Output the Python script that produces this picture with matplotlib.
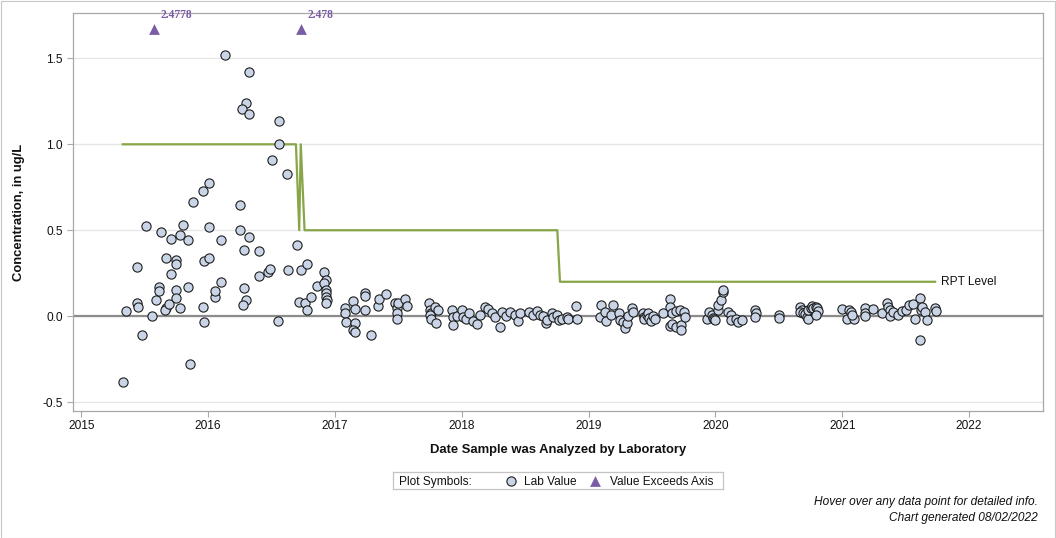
"""Lab concentration history with RPT level step line (SAS-style chart)."""

import matplotlib
matplotlib.use("Agg")  # no display in the sandbox
import matplotlib.pyplot as plt
from matplotlib.patches import Rectangle

plt.rcParams["font.family"] = ["Liberation Sans", "DejaVu Sans"]

W, H = 1056, 538  # output size in pixels

# --- data (decimal year of analysis, concentration in ug/L) ---------------
year_2015_16 = [
    2015.33, 2015.35, 2015.44, 2015.445, 2015.44, 2015.48, 2015.51, 2015.56,
    2015.59, 2015.61, 2015.61, 2015.63, 2015.67, 2015.66, 2015.69, 2015.67,
    2015.71, 2015.71, 2015.75, 2015.75, 2015.75, 2015.745, 2015.78, 2015.78,
    2015.80, 2015.84, 2015.84, 2015.86, 2015.88, 2015.96, 2015.96, 2015.97,
    2015.97, 2016.01, 2016.01, 2016.01, 2016.05, 2016.055, 2016.10, 2016.10,
    2016.13, 2016.25, 2016.25, 2016.28, 2016.28, 2016.30, 2016.277, 2016.32,
    2016.30, 2016.27, 2016.32, 2016.32, 2016.40, 2016.40, 2016.47, 2016.49,
    2016.50, 2016.56, 2016.56, 2016.55, 2016.62, 2016.63, 2016.70, 2016.73,
    2016.78, 2016.72, 2016.76, 2016.78, 2016.81, 2016.86, 2016.91, 2016.93,
    2016.91, 2016.93, 2016.93, 2016.93, 2016.94, 2016.93,
]
conc_2015_16 = [
    -0.385, 0.029, 0.077, 0.051, 0.287, -0.110, 0.523, 0.000,
    0.093, 0.170, 0.147, 0.488, 0.045, 0.033, 0.070, 0.337,
    0.244, 0.448, 0.326, 0.306, 0.155, 0.105, 0.045, 0.475,
    0.528, 0.442, 0.167, -0.281, 0.663, 0.731, 0.051, -0.035,
    0.320, 0.336, 0.777, 0.516, 0.109, 0.145, 0.442, 0.196,
    1.517, 0.649, 0.500, 0.384, 0.161, 0.093, 0.064, 0.459,
    1.240, 1.207, 1.174, 1.419, 0.378, 0.233, 0.258, 0.272,
    0.907, 1.135, 1.004, -0.029, 0.830, 0.267, 0.413, 0.267,
    0.306, 0.083, 0.074, 0.035, 0.112, 0.178, 0.258, 0.213,
    0.194, 0.151, 0.132, 0.109, 0.093, 0.074,
]

year_2017_18 = [
    2017.08, 2017.08, 2017.09, 2017.14, 2017.16, 2017.16, 2017.14, 2017.16,
    2017.24, 2017.24, 2017.24, 2017.28, 2017.34, 2017.35, 2017.40, 2017.47,
    2017.49, 2017.49, 2017.49, 2017.50, 2017.55, 2017.57, 2017.74, 2017.75,
    2017.76, 2017.75, 2017.76, 2017.79, 2017.81, 2017.80, 2017.92, 2017.93,
    2017.93, 2017.96, 2018.00, 2018.01, 2018.03, 2018.06, 2018.09, 2018.12,
    2018.14, 2018.18, 2018.21, 2018.24, 2018.26, 2018.30, 2018.32, 2018.35,
    2018.38, 2018.42, 2018.44, 2018.46, 2018.53, 2018.56, 2018.59, 2018.62,
    2018.64, 2018.66, 2018.67, 2018.71, 2018.72, 2018.75, 2018.77, 2018.79,
    2018.83, 2018.84, 2018.90, 2018.91,
]
conc_2017_18 = [
    0.045, 0.016, -0.036, 0.087, 0.039, -0.042, -0.081, -0.091,
    0.132, 0.116, 0.038, -0.110, 0.059, 0.101, 0.127, 0.074,
    0.045, 0.016, -0.014, 0.074, 0.098, 0.058, 0.076, 0.035,
    0.016, 0.006, -0.014, 0.054, 0.038, -0.042, 0.035, -0.004,
    -0.052, 0.003, 0.035, -0.004, -0.014, 0.016, -0.029, -0.048,
    0.006, 0.056, 0.039, 0.016, -0.004, -0.064, 0.026, 0.003,
    0.024, 0.009, -0.026, 0.016, 0.022, 0.006, 0.032, 0.006,
    0.000, -0.042, -0.023, 0.016, -0.004, 0.006, -0.023, -0.014,
    -0.004, -0.016, 0.059, -0.019,
]

year_2019_20 = [
    2019.10, 2019.09, 2019.13, 2019.14, 2019.19, 2019.18, 2019.24, 2019.25,
    2019.27, 2019.29, 2019.30, 2019.31, 2019.34, 2019.35, 2019.43, 2019.44,
    2019.44, 2019.46, 2019.47, 2019.48, 2019.49, 2019.51, 2019.52, 2019.59,
    2019.64, 2019.64, 2019.64, 2019.66, 2019.66, 2019.69, 2019.69, 2019.72,
    2019.73, 2019.73, 2019.75, 2019.76, 2019.93, 2019.95, 2019.97, 2019.98,
    2019.985, 2020.00, 2020.02, 2020.02, 2020.04, 2020.06, 2020.06, 2020.10,
    2020.12, 2020.12, 2020.16, 2020.18, 2020.21, 2020.31, 2020.32, 2020.31,
    2020.50, 2020.50,
]
conc_2019_20 = [
    0.064, -0.004, 0.025, -0.026, 0.064, 0.009, 0.016, -0.023,
    -0.033, -0.070, -0.042, 0.001, 0.045, 0.022, 0.016, -0.004,
    -0.015, 0.006, 0.016, -0.010, -0.027, 0.002, -0.014, 0.019,
    0.098, 0.055, -0.058, 0.020, -0.048, 0.032, -0.062, 0.035,
    -0.052, -0.081, 0.027, -0.004, -0.014, 0.025, 0.006, -0.009,
    -0.015, -0.023, 0.035, 0.064, 0.093, 0.141, 0.154, 0.022,
    0.006, -0.023, -0.014, -0.033, -0.023, 0.035, 0.016, -0.004,
    0.009, -0.012,
]

year_2020_21 = [
    2020.67, 2020.68, 2020.67, 2020.69, 2020.71, 2020.72, 2020.73, 2020.73,
    2020.75, 2020.76, 2020.77, 2020.79, 2020.80, 2020.81, 2020.79, 2021.00,
    2021.04, 2021.05, 2021.07, 2021.09, 2021.08, 2021.18, 2021.18, 2021.18,
    2021.24, 2021.31, 2021.35, 2021.36, 2021.38, 2021.38, 2021.40, 2021.44,
    2021.47, 2021.50, 2021.53, 2021.56, 2021.57, 2021.61, 2021.62, 2021.63,
    2021.65, 2021.67, 2021.61, 2021.73, 2021.74,
]
conc_2020_21 = [
    0.055, 0.035, 0.025, 0.016, 0.015, -0.003, -0.014, 0.035,
    0.045, 0.058, 0.049, 0.054, 0.045, 0.029, 0.006, 0.039,
    -0.014, 0.035, 0.025, -0.014, 0.006, 0.045, 0.016, 0.003,
    0.039, 0.016, 0.077, 0.054, 0.035, 0.000, 0.025, 0.006,
    0.031, 0.035, 0.064, 0.070, -0.019, 0.103, 0.035, 0.054,
    0.025, -0.023, -0.140, 0.045, 0.029,
]

sample_year = year_2015_16 + year_2017_18 + year_2019_20 + year_2020_21
sample_conc = conc_2015_16 + conc_2017_18 + conc_2019_20 + conc_2020_21

# Results too large for the axis (shown as triangles with their value)
exceed_year = [2015.57, 2016.73]
exceed_label = ["2.4778", "2.478"]

# Reporting level step line
rpt_year = [2015.326, 2016.692, 2016.718, 2016.730, 2016.760, 2018.753, 2018.774, 2021.732]
rpt_level = [1.0, 1.0, 0.5, 1.0, 0.5, 0.5, 0.2, 0.2]

year_ticks = [2015, 2016, 2017, 2018, 2019, 2020, 2021, 2022]
conc_ticks = [-0.5, 0.0, 0.5, 1.0, 1.5]
conc_tick_labels = ["-0.5", "0.0", "0.5", "1.0", "1.5"]

# --- styles -----------------------------------------------------------------
FILL = "#c9d5e6"
EDGE = "#1e1e1e"
PURPLE = "#7a5ca6"
GREEN = "#88a548"
FRAME = "#a8a8a8"
EXCEED_MARK_Y = 1.67  # triangles sit near the top of the axis
FS = 8.6
DOT = 44  # scatter marker area

fig = plt.figure(figsize=(W / 100, H / 100), dpi=100)
ax = fig.add_axes([73 / W, (H - 411) / H, 970 / W, 398.5 / H])
ax.set_xlim(2014.934, 2022.583)
ax.set_ylim(-0.552, 1.767)

# light horizontal grid and the heavier zero reference line
ax.yaxis.grid(True, color="#e6e6e6", linewidth=1.0, zorder=0)
ax.set_axisbelow(True)
ax.axhline(0, color="#8c8c8c", linewidth=1.6, zorder=1)

# RPT level step line + label at its end
ax.plot(rpt_year, rpt_level, color=GREEN, linewidth=1.6, zorder=2)
ax.annotate("RPT Level", (rpt_year[-1], rpt_level[-1]), xytext=(4, 0),
            textcoords="offset points", va="center", ha="left", fontsize=FS, color="#111")

# lab values
ax.scatter(sample_year, sample_conc, s=DOT, facecolor=FILL, edgecolor=EDGE,
           linewidth=0.8, zorder=3)

# values exceeding the axis
ax.scatter(exceed_year, [EXCEED_MARK_Y] * len(exceed_year), marker="^", s=60,
           color=PURPLE, linewidth=0, zorder=3)
for yr, lab in zip(exceed_year, exceed_label):
    ax.annotate(lab, (yr, EXCEED_MARK_Y), xytext=(5, 6), textcoords="offset points",
                ha="left", va="bottom", fontsize=8.3, color=PURPLE,
                family=["Liberation Serif", "DejaVu Serif"], weight="bold")

ax.set_xticks(year_ticks)
ax.set_xticklabels([str(y) for y in year_ticks])
ax.set_yticks(conc_ticks)
ax.set_yticklabels(conc_tick_labels)
ax.tick_params(direction="out", length=4.3, width=0.8, color=FRAME,
               labelsize=FS, labelcolor="#111")
ax.tick_params(axis="y", pad=3)
ax.tick_params(axis="x", pad=2.5)
for sp in ax.spines.values():
    sp.set_color(FRAME)
    sp.set_linewidth(0.9)

# axis titles
fig.text(19 / W, 1 - 212 / H, "Concentration, in ug/L", rotation=90, ha="center",
         va="center", fontsize=9.4, weight="bold", color="#111")
fig.text(558 / W, 1 - 450 / H, "Date Sample was Analyzed by Laboratory", ha="center",
         va="center", fontsize=9.4, weight="bold", color="#111")

# legend box drawn in its own small axes (pixel units)
lax = fig.add_axes([393 / W, (H - 489) / H, 330 / W, 17 / H])
lax.set_xlim(0, 330)
lax.set_ylim(0, 17)
lax.set_xticks([])
lax.set_yticks([])
for sp in lax.spines.values():
    sp.set_color("#c4c4c4")
    sp.set_linewidth(0.9)
lax.text(6, 8.5, "Plot Symbols:", va="center_baseline", ha="left", fontsize=FS, color="#111")
lax.scatter([118], [8.5], s=DOT, facecolor=FILL, edgecolor=EDGE, linewidth=0.8)
lax.text(131, 8.5, "Lab Value", va="center_baseline", ha="left", fontsize=FS, color="#111")
lax.scatter([202], [8.5], marker="^", s=60, color=PURPLE, linewidth=0)
lax.text(217, 8.5, "Value Exceeds Axis", va="center_baseline", ha="left", fontsize=FS,
         color="#111")

# footer notes
fig.text(1038 / W, 1 - 502 / H, "Hover over any data point for detailed info.",
         ha="right", va="center", fontsize=FS, style="italic", color="#111")
fig.text(1038 / W, 1 - 518 / H, "Chart generated 08/02/2022",
         ha="right", va="center", fontsize=FS, style="italic", color="#111")

# thin outer border around the whole image
fig.add_artist(Rectangle((0.5 / W, 0.5 / H), 1 - 1.5 / W, 1 - 1.5 / H,
                         transform=fig.transFigure, fill=False,
                         edgecolor="#c8c8c8", linewidth=0.8))

fig.savefig("out.png", dpi=100)
plt.close(fig)
